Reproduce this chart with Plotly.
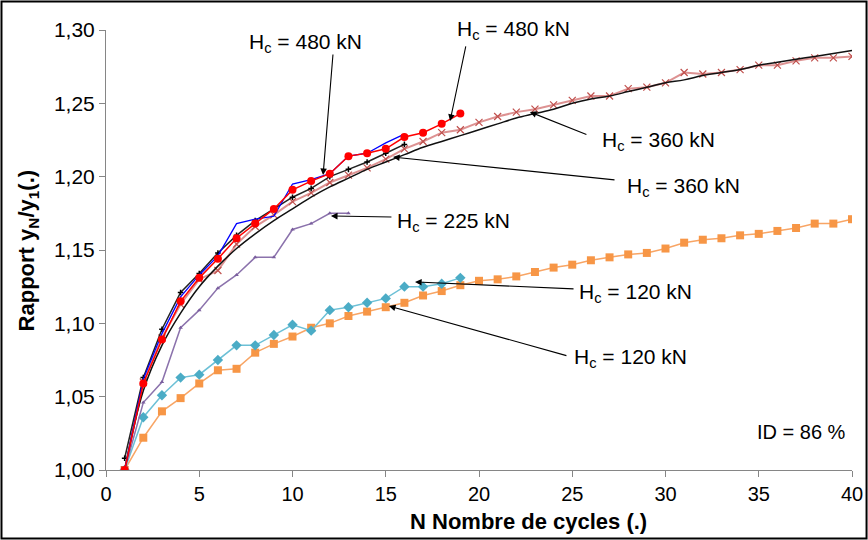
import plotly.graph_objects as go

# ---- data ----
n_orange = list(range(1, 41))
y_orange = [1.000, 1.022, 1.040, 1.049, 1.059, 1.068, 1.069, 1.080, 1.086, 1.091,
            1.097, 1.100, 1.105, 1.108, 1.111, 1.114, 1.119, 1.122, 1.126, 1.129,
            1.130, 1.132, 1.135, 1.138, 1.140, 1.143, 1.145, 1.147, 1.148, 1.151,
            1.155, 1.157, 1.158, 1.160, 1.161, 1.163, 1.165, 1.168, 1.168, 1.171]

n_cyan = list(range(1, 20))
y_cyan = [1.000, 1.036, 1.051, 1.063, 1.065, 1.075, 1.085, 1.085, 1.092, 1.099,
          1.095, 1.109, 1.111, 1.114, 1.117, 1.125, 1.125, 1.127, 1.131]

n_purple = list(range(1, 14))
y_purple = [1.000, 1.046, 1.060, 1.097, 1.109, 1.124, 1.133, 1.145, 1.145, 1.164,
            1.168, 1.175, 1.175]

n_redx = list(range(1, 41))
y_redx = [1.000, 1.060, 1.090, 1.113, 1.130, 1.136, 1.154, 1.166, 1.174, 1.183,
          1.189, 1.196, 1.201, 1.206, 1.212, 1.219, 1.224, 1.230, 1.232, 1.237,
          1.241, 1.244, 1.246, 1.249, 1.252, 1.255, 1.255, 1.260, 1.261, 1.264,
          1.271, 1.270, 1.271, 1.273, 1.276, 1.276, 1.279, 1.281, 1.281, 1.282]

n_fit = list(range(1, 41))
y_fit = [1.000, 1.054, 1.085, 1.107, 1.125, 1.139, 1.151, 1.161, 1.170, 1.178,
         1.186, 1.193, 1.199, 1.205, 1.210, 1.215, 1.220, 1.224, 1.228, 1.232,
         1.236, 1.240, 1.243, 1.246, 1.250, 1.253, 1.255, 1.258, 1.261, 1.264,
         1.266, 1.269, 1.271, 1.273, 1.276, 1.278, 1.280, 1.282, 1.284, 1.286]

n_black = list(range(1, 17))
y_black = [1.008, 1.063, 1.096, 1.121, 1.134, 1.148, 1.160, 1.170, 1.178, 1.186,
           1.192, 1.200, 1.205, 1.210, 1.216, 1.222]

n_blue = list(range(1, 17))
y_blue = [1.000, 1.062, 1.093, 1.118, 1.133, 1.146, 1.168, 1.171, 1.173, 1.195,
          1.198, 1.202, 1.214, 1.216, 1.223, 1.229]

n_red = list(range(1, 20))
y_red = [1.000, 1.059, 1.089, 1.115, 1.131, 1.144, 1.158, 1.168, 1.178, 1.191,
         1.197, 1.202, 1.214, 1.216, 1.219, 1.227, 1.230, 1.236, 1.243]

x_ticks = [0, 5, 10, 15, 20, 25, 30, 35, 40]
y_ticks = [1.00, 1.05, 1.10, 1.15, 1.20, 1.25, 1.30]

# annotation labels: (text, text_x, text_y, tip_x, tip_y, tail_dx_px, tail_dy_px)
labels = [
    ("H<sub>c</sub> = 480 kN", 7.56, 1.291, 11.64, 1.2011, 10, -122),
    ("H<sub>c</sub> = 480 kN", 18.71, 1.300, 18.45, 1.238, 16, -76),
    ("H<sub>c</sub> = 360 kN", 26.49, 1.2243, 22.73, 1.2441, 58, 23),
    ("H<sub>c</sub> = 360 kN", 27.83, 1.193, 15.39, 1.2134, 223, 23),
    ("H<sub>c</sub> = 225 kN", 15.50, 1.169, 12.06, 1.1732, 62, 1),
    ("H<sub>c</sub> = 120 kN", 25.25, 1.1207, 16.57, 1.1282, 160, 7),
    ("H<sub>c</sub> = 120 kN", 24.99, 1.0764, 15.17, 1.1118, 179, 50),
]

FONT = "Liberation Sans, Arial, sans-serif"

fig = go.Figure()

fig.add_trace(go.Scatter(x=n_orange, y=y_orange, mode="lines+markers",
                         line=dict(color="#F8A565", width=1.5),
                         marker=dict(symbol="square", size=8, color="#F79646")))
fig.add_trace(go.Scatter(x=n_cyan, y=y_cyan, mode="lines+markers",
                         line=dict(color="#6CC0D6", width=1.5),
                         marker=dict(symbol="diamond", size=8, color="#4BACC6")))
fig.add_trace(go.Scatter(x=n_purple, y=y_purple, mode="lines+markers",
                         line=dict(color="#8B72AC", width=1.5),
                         marker=dict(symbol="triangle-up", size=4, color="#7A5E9E")))
fig.add_trace(go.Scatter(x=n_redx, y=y_redx, mode="lines+markers",
                         line=dict(color="rgba(210,110,110,0.75)", width=2),
                         marker=dict(symbol="x-thin", size=7,
                                     line=dict(color="#C0504D", width=1.2))))
fig.add_trace(go.Scatter(x=n_fit, y=y_fit, mode="lines",
                         line=dict(color="#111111", width=1.5, shape="spline")))
fig.add_trace(go.Scatter(x=n_black, y=y_black, mode="lines+markers",
                         line=dict(color="#222222", width=1.5),
                         marker=dict(symbol="cross-thin", size=4,
                                     line=dict(color="#000000", width=1.5))))
fig.add_trace(go.Scatter(x=n_blue, y=y_blue, mode="lines",
                         line=dict(color="#0000FF", width=1.3)))
fig.add_trace(go.Scatter(x=n_red, y=y_red, mode="lines+markers",
                         line=dict(color="#FF0000", width=1.5),
                         marker=dict(symbol="circle", size=8, color="#FF0000")))

annotations = []
for text, tx, ty, px, py, dx, dy in labels:
    annotations.append(dict(x=px, y=py, xref="x", yref="y", text="",
                            showarrow=True, ax=dx, ay=dy, axref="pixel", ayref="pixel",
                            arrowhead=2, arrowsize=1.2, arrowwidth=1.1,
                            arrowcolor="#000000", standoff=0))
    annotations.append(dict(x=tx, y=ty, xref="x", yref="y", text=text,
                            showarrow=False, xanchor="left", yanchor="middle",
                            font=dict(family=FONT, size=21, color="#000000")))

annotations.append(dict(x=39.8, y=1.026, xref="x", yref="y", text="ID = 86 %",
                        showarrow=False, xanchor="right", yanchor="middle",
                        font=dict(family=FONT, size=20, color="#000000")))

# axis titles
annotations.append(dict(x=-0.104, y=0.5, xref="paper", yref="paper",
                        text="<b>Rapport y<sub>N</sub>/y<sub>1</sub>(.)</b>",
                        textangle=-90, showarrow=False,
                        xanchor="center", yanchor="middle",
                        font=dict(family=FONT, size=22, color="#000000")))
annotations.append(dict(x=0.566, y=-0.116, xref="paper", yref="paper",
                        text="<b>N Nombre de cycles (.)</b>",
                        showarrow=False, xanchor="center", yanchor="middle",
                        font=dict(family=FONT, size=22, color="#000000")))

fig.update_layout(
    width=868, height=540,
    margin=dict(l=106, r=16, t=30, b=70),
    paper_bgcolor="white", plot_bgcolor="white",
    showlegend=False,
    separators=", ",
    annotations=annotations,
    xaxis=dict(range=[0, 40], tickvals=x_ticks, ticks="outside", ticklen=6,
               tickcolor="#868686", showline=True, linecolor="#868686", linewidth=1,
               showgrid=False, zeroline=False, automargin=False,
               tickfont=dict(family=FONT, size=20, color="#000000")),
    yaxis=dict(range=[1.0, 1.3], tickvals=y_ticks, tickformat=".2f",
               ticksuffix="\u00a0",
               ticks="outside", ticklen=6,
               tickcolor="#868686", showline=True, linecolor="#868686", linewidth=1,
               showgrid=False, zeroline=False, automargin=False,
               tickfont=dict(family=FONT, size=21, color="#000000")),
    shapes=[dict(type="rect", xref="paper", yref="paper",
                 x0=-0.1401, x1=1.0195, y0=-0.1557, y1=1.0648,
                 line=dict(color="#000000", width=2), fillcolor="rgba(0,0,0,0)",
                 layer="above")],
)

fig.write_html("out.html", config={"displayModeBar": False},
               post_script="document.body.style.margin='0';")
